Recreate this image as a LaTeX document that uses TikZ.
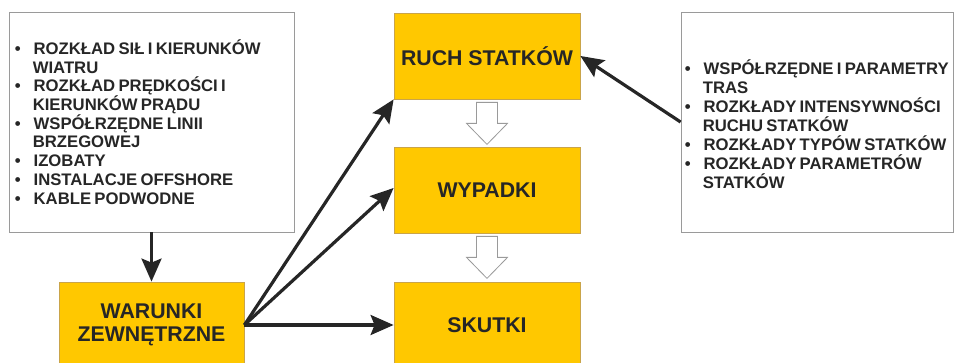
\documentclass[tikz,border=0pt]{standalone}
\usepackage{fontspec}
\setmainfont{Liberation Sans}
\usetikzlibrary{arrows.meta,calc}
\definecolor{ybox}{HTML}{FFC800}
\definecolor{yedge}{HTML}{C9A44A}
\definecolor{gedge}{HTML}{9A9A9A}
\definecolor{ink}{HTML}{262626}
\newenvironment{blist}[1]{\fontsize{16.7}{#1}\selectfont\bfseries\color{ink}%
  \begin{list}{\textbullet}{\setlength\leftmargin{16pt}\setlength\labelwidth{5pt}%
  \setlength\labelsep{13pt}\setlength\itemsep{0pt}\setlength\parsep{0pt}%
  \setlength\topsep{0pt}\setlength\partopsep{0pt}\setlength\itemindent{0pt}}}%
  {\end{list}}
\begin{document}
\begin{tikzpicture}[x=1pt,y=-1pt,
  wbox/.style={draw=gedge,line width=0.8pt,fill=white,inner sep=0pt},
  ybx/.style={draw=yedge,line width=0.8pt,fill=ybox,inner sep=0pt,
    font=\fontsize{21.3}{23}\selectfont\bfseries,text=ink,align=center},
  blk/.style={draw=ink,line width=3.2pt,-{Stealth[length=23pt,width=20pt,inset=4pt]}},
  hollow/.style={draw=gedge,line width=0.8pt,fill=white}]
\useasboundingbox (0,0) rectangle (955,363);
% white boxes
\node[wbox,minimum width=285pt,minimum height=220pt] (lbox) at (151.5,122) {};
\node[wbox,minimum width=272pt,minimum height=220pt] (rbox) at (817,122) {};
\node[anchor=west,inner sep=0pt,text width=275pt] (ltext) at ($(lbox.west)+(8,-2)$) {%
\begin{blist}{18.7}
\item ROZKŁAD SIŁ I KIERUNKÓW\newline WIATRU
\item ROZKŁAD PRĘDKOŚCI I\newline KIERUNKÓW PRĄDU
\item WSPÓŁRZĘDNE LINII\newline BRZEGOWEJ
\item IZOBATY
\item INSTALACJE OFFSHORE
\item KABLE PODWODNE
\end{blist}};
\node[anchor=west,inner sep=0pt,text width=266pt] (rtext) at ($(rbox.west)+(6,0)$) {%
\begin{blist}{19.1}
\item WSPÓŁRZĘDNE I PARAMETRY\newline TRAS
\item ROZKŁADY INTENSYWNOŚCI\newline RUCHU STATKÓW
\item ROZKŁADY TYPÓW STATKÓW
\item ROZKŁADY PARAMETRÓW\newline STATKÓW
\end{blist}};
% yellow boxes
\node[ybx,minimum width=186pt,minimum height=86pt] (ruch) at (487,56) {RUCH STATKÓW};
\node[ybx,minimum width=186pt,minimum height=86pt] (wyp) at (487,190) {WYPADKI};
\node[ybx,minimum width=186pt,minimum height=86pt] (sku) at (487,325) {SKUTKI};
\node[ybx,minimum width=185pt,minimum height=86pt] (war) at (151.5,325) {WARUNKI\\ZEWNĘTRZNE};
% hollow arrows
\begin{scope}[shift={(ruch.south)}]
\path[hollow] (-10.5,3) -- (10.5,3) -- (10.5,24) -- (20.5,24) -- (0,45) -- (-20.5,24) -- (-10.5,24) -- cycle;
\end{scope}
\begin{scope}[shift={(wyp.south)}]
\path[hollow] (-10.5,3) -- (10.5,3) -- (10.5,24) -- (20.5,24) -- (0,45) -- (-20.5,24) -- (-10.5,24) -- cycle;
\end{scope}
% black arrows
\draw[blk] (lbox.south) -- (war.north);
\draw[blk] (war.east) -- (ruch.south west);
\draw[blk] (war.east) -- ($(wyp.west)+(0,-2)$);
\draw[blk] (war.east) -- (sku.west);
\draw[blk] (rbox.west) -- (ruch.east);
\end{tikzpicture}
\end{document}
